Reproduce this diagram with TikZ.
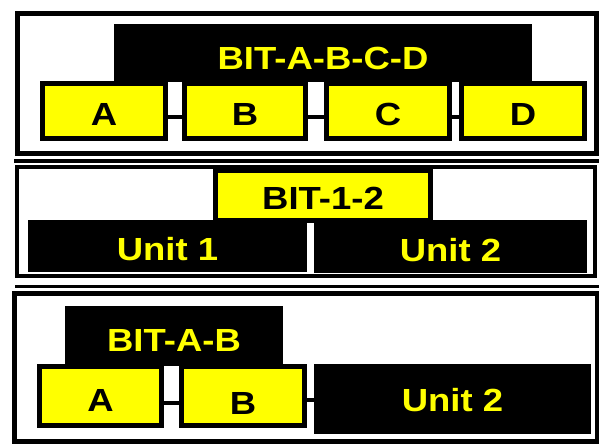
\documentclass[tikz,border=0pt]{standalone}
\usepackage{fontspec}
\newfontfamily\lab{Liberation Sans}[FakeStretch=1.14]
\definecolor{ylw}{RGB}{255,255,0}
\tikzset{
  every node/.style={font=\lab\bfseries\fontsize{32}{32}\selectfont, inner sep=0pt, outer sep=0pt, text depth=0pt},
  frame/.style={draw=black, line width=5pt},
  sepline/.style={draw=black, line width=4pt},
  ybox/.style={draw=black, fill=ylw, line width=5pt, text=black},
  bbox/.style={fill=black, text=ylw},
  conn/.style={draw=black, line width=4.5pt},
}
\begin{document}
\begin{tikzpicture}[x=1pt, y=-1pt]
\useasboundingbox (0,0) rectangle (599,444);
\fill[white] (0,0) rectangle (599,444);
% panel frames and separators
\draw[frame] (17,13.5) rectangle (596,153);
\draw[sepline] (14,161) -- (599,161);
\draw[frame, line width=4pt] (17,167) rectangle (595,276);
\draw[sepline, line width=3.5pt] (15,286.5) -- (599,286.5);
\draw[frame] (14.5,293.5) rectangle (597,441.5);
% panel 1
\node[bbox, minimum width=418pt, minimum height=58pt, text height=32pt] (T1) at (323,53) {BIT-A-B-C-D};
\node[ybox, minimum width=123pt, minimum height=55pt, text height=28pt] (A1) at (104,111) {A};
\node[ybox, minimum width=121pt, minimum height=55pt, text height=28pt] (B1) at (245,111) {B};
\node[ybox, minimum width=123pt, minimum height=55pt, text height=28pt] (C1) at (388,111) {C};
\node[ybox, minimum width=123pt, minimum height=55pt, text height=28pt] (D1) at (523,111) {D};
\draw[conn] ([yshift=-6pt]A1.east) -- ([yshift=-6pt]A1.east -| B1.west);
\draw[conn] ([yshift=-6pt]B1.east) -- ([yshift=-6pt]B1.east -| C1.west);
\draw[conn] ([yshift=-6pt]C1.east) -- ([yshift=-6pt]C1.east -| D1.west);
% panel 2
\node[bbox, minimum width=279pt, minimum height=52pt, text height=28pt] (U1) at (167.5,246) {Unit 1};
\node[bbox, minimum width=273pt, minimum height=53pt, text height=29pt] (U2) at (450.5,246.5) {Unit 2};
\node[ybox, minimum width=215pt, minimum height=50pt, text height=27pt] (T2) at (323,195.5) {BIT-1-2};
% panel 3
\node[bbox, minimum width=218pt, minimum height=60pt, text height=30pt] (T3) at (174,336) {BIT-A-B};
\node[ybox, minimum width=122pt, minimum height=59pt, text height=30pt] (A3) at (100.5,396) {A};
\node[ybox, minimum width=123pt, minimum height=59pt, text height=36pt] (B3) at (243,396) {B};
\node[bbox, minimum width=277pt, minimum height=70pt, text height=24pt] (U3) at (452.5,399) {Unit 2};
\draw[conn] ([yshift=-7pt]A3.east) -- ([yshift=-7pt]A3.east -| B3.west);
\draw[conn] ([yshift=-4pt]B3.east) -- ([yshift=-4pt]B3.east -| U3.west);
\end{tikzpicture}
\end{document}
